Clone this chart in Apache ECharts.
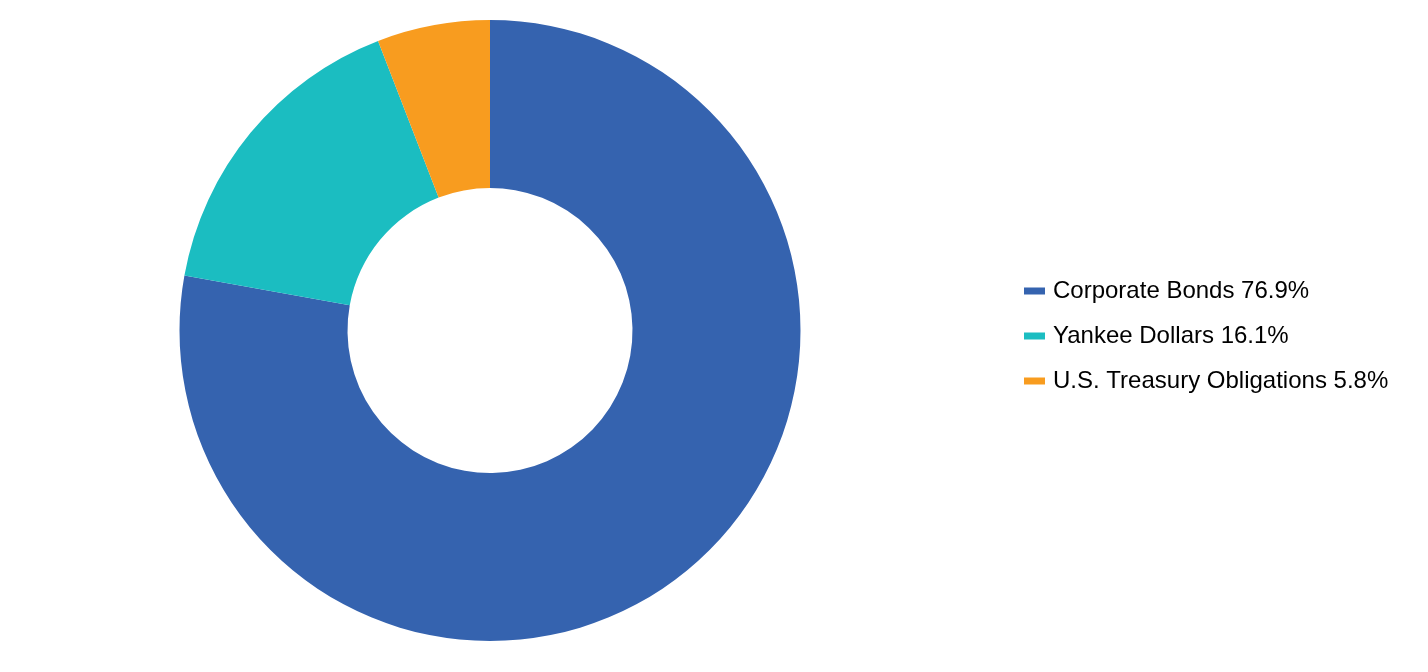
<!DOCTYPE html>
<html>
<head>
<meta charset="utf-8">
<script src="https://cdn.jsdelivr.net/npm/echarts@6/dist/echarts.min.js"></script>
<style>
html,body{margin:0;padding:0;background:#fff;}
#chart{width:1428px;height:672px;}
</style>
</head>
<body>
<div id="chart"></div>
<script>
var categories = ['Corporate Bonds', 'Yankee Dollars', 'U.S. Treasury Obligations'];
var values = [76.9, 16.1, 5.8];
var colors = ['#3563AF', '#1BBDC1', '#F89C1F'];

var chart = echarts.init(document.getElementById('chart'), null, {renderer: 'canvas'});
var data = categories.map(function (c, i) {
  return {name: c, value: values[i], itemStyle: {color: colors[i]}};
});
chart.setOption({
  animation: false,
  legend: {
    orient: 'vertical',
    left: 1019,
    top: 'middle',
    icon: 'rect',
    itemWidth: 21,
    itemHeight: 7,
    itemGap: 17,
    data: categories,
    formatter: function (name) {
      var i = categories.indexOf(name);
      return name + ' ' + values[i].toFixed(1) + '%';
    },
    textStyle: {
      fontFamily: 'Liberation Sans, Arial, sans-serif',
      fontSize: 24,
      color: '#000',
      lineHeight: 28,
      padding: [0, 0, 0, 3]
    }
  },
  series: [{
    type: 'pie',
    center: [490, 330.5],
    radius: [142.5, 310.5],
    startAngle: 90,
    clockwise: true,
    label: {show: false},
    labelLine: {show: false},
    emphasis: {disabled: true},
    itemStyle: {borderWidth: 0},
    data: data
  }]
});
</script>
</body>
</html>
